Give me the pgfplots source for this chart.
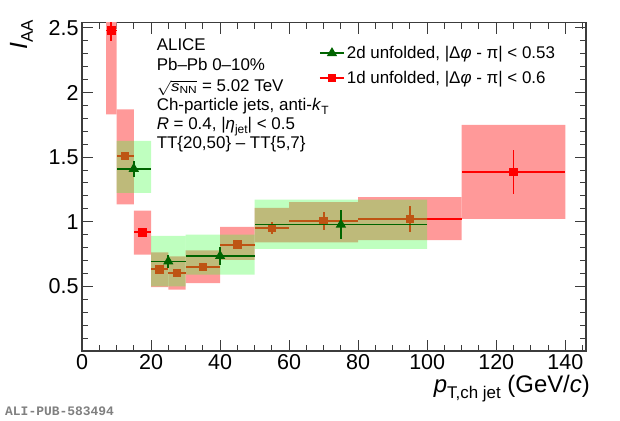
\documentclass[border=0pt]{standalone}
\usepackage{fontspec}
\setmainfont{Liberation Sans}
\setmonofont{Liberation Mono}
\usepackage{graphicx}
\usepackage{pgfplots}
\pgfplotsset{compat=1.18}
\definecolor{sysred}{RGB}{255,153,153}
\definecolor{sysgreen}{RGB}{60,255,60}
\definecolor{dgreen}{RGB}{0,100,0}
\definecolor{axgray}{RGB}{60,60,60}
\newcommand{\rbox}[4]{\addplot[draw=none,fill=sysred,forget plot] coordinates {(#1,#3) (#2,#3) (#2,#4) (#1,#4) (#1,#3)};}
\newcommand{\gbox}[4]{\addplot[draw=none,fill=sysgreen,fill opacity=0.33,forget plot] coordinates {(#1,#3) (#2,#3) (#2,#4) (#1,#4) (#1,#3)};}
\begin{document}
\begin{tikzpicture}
\path[use as bounding box] (0,0) rectangle (620bp,421bp);
\begin{axis}[
  at={(82bp,70bp)}, anchor=south west,
  scale only axis, width=504bp, height=328.3bp,
  xmin=0, xmax=146, ymin=0, ymax=2.54,
  xtick={0,20,...,140}, ytick={0.5,1,1.5,2,2.5},
  minor xtick={5,10,15,25,30,35,45,50,55,65,70,75,85,90,95,105,110,115,125,130,135,145},
  minor ytick={0.1,0.2,0.3,0.4,0.6,0.7,0.8,0.9,1.1,1.2,1.3,1.4,1.6,1.7,1.8,1.9,2.1,2.2,2.3,2.4},
  tick align=inside, major tick length=11bp, minor tick length=6bp,
  axis line style={line width=1.1bp, axgray},
  every tick/.style={axgray, line width=1bp},
  ticklabel style={font=\fontsize{21.6}{21.6}\selectfont},
  /pgf/number format/assume math mode=true,
  clip marker paths=true,
  legend style={at={(rel axis cs:0.47,0.935)}, anchor=north west, draw=none, fill=none,
     font=\fontsize{17}{17}\selectfont, row sep=7bp, inner sep=0pt},
  legend cell align=left,
  legend image code/.code={\draw[mark repeat=2,mark phase=2] plot coordinates {(0bp,0bp) (12bp,0bp) (24bp,0bp)};},
]
% red systematic boxes
\rbox{7}{10}{1.83}{3.13}
\rbox{10}{15}{1.134}{1.87}
\rbox{15}{20}{0.745}{1.087}
\rbox{20}{25}{0.495}{0.763}
\rbox{25}{30}{0.474}{0.732}
\rbox{30}{40}{0.525}{0.778}
\rbox{40}{50}{0.705}{0.96}
\rbox{50}{60}{0.84}{1.108}
\rbox{60}{80}{0.84}{1.151}
\rbox{80}{110}{0.857}{1.19}
\rbox{110}{140}{1.022}{1.75}
% red points
\addplot[red, line width=1.8bp, only marks, mark=square*, mark size=3.3bp, forget plot,
  error bars/.cd, x dir=both, x explicit, y dir=both, y explicit, error mark=none,
  error bar style={line width=1.8bp, red}]
  table[x=x, y=y, x error=ex, y error=ey] {
x y ex ey
8.5 2.48 1.5 0.085
12.5 1.51 2.5 0.03
17.5 0.918 2.5 0.02
22.5 0.632 2.5 0.02
27.5 0.603 2.5 0.02
35 0.65 5 0.02
45 0.823 5 0.03
55 0.952 5 0.045
70 1.004 10 0.07
95 1.022 15 0.1
125 1.387 15 0.17
};
% green systematic boxes
\gbox{10}{20}{1.224}{1.625}
\gbox{20}{30}{0.50}{0.89}
\gbox{30}{50}{0.59}{0.90}
\gbox{50}{100}{0.79}{1.172}
% green points
\addplot[dgreen, line width=1.8bp, only marks, mark=triangle*, mark size=4.2bp, forget plot,
  error bars/.cd, x dir=both, x explicit, y dir=both, y explicit, error mark=none,
  error bar style={line width=1.8bp, dgreen}]
  table[x=x, y=y, x error=ex, y error=ey] {
x y ex ey
15 1.41 5 0.06
25 0.693 5 0.05
40 0.735 10 0.07
75 0.978 25 0.115
};
\addlegendimage{dgreen, line width=1.8bp, mark=triangle*, mark size=4.2bp}
\addlegendentry{2d unfolded, |Δ\textit{φ} - π| < 0.53}
\addlegendimage{red, line width=1.8bp, mark=square*, mark size=3.3bp}
\addlegendentry{1d unfolded, |Δ\textit{φ} - π| < 0.6}
% annotation
\node[anchor=base west, inner sep=0, font=\fontsize{17}{17}\selectfont] at (rel axis cs:0.148,0.915) {ALICE};
\node[anchor=base west, inner sep=0, font=\fontsize{17}{17}\selectfont] at (rel axis cs:0.148,0.854) {Pb–Pb 0–10\%};
\node[anchor=base west, inner sep=0, font=\fontsize{17}{17}\selectfont] at (rel axis cs:0.148,0.791) {\scalebox{1}[0.86]{$\sqrt{\textit{s}_{\mbox{\fontsize{12}{12}\selectfont NN}}}$} = 5.02 TeV};
\node[anchor=base west, inner sep=0, font=\fontsize{17}{17}\selectfont] at (rel axis cs:0.148,0.734) {Ch-particle jets, anti-\textit{k}\raisebox{-0.45ex}{\fontsize{12}{12}\selectfont T}};
\node[anchor=base west, inner sep=0, font=\fontsize{17}{17}\selectfont] at (rel axis cs:0.148,0.676) {\textit{R} = 0.4, |\textit{η}\raisebox{-0.5ex}{\fontsize{12}{12}\selectfont jet}| < 0.5};
\node[anchor=base west, inner sep=0, font=\fontsize{17}{17}\selectfont] at (rel axis cs:0.148,0.617) {TT\{20,50\} – TT\{5,7\}};
\end{axis}
\node[anchor=base east, inner sep=0, font=\fontsize{24}{24}\selectfont] at (590bp,29bp)
  {\textit{p}\raisebox{-0.55ex}{\fontsize{17}{17}\selectfont T,ch jet} (GeV/\textit{c})};
\node[anchor=base east, rotate=90, inner sep=0, font=\fontsize{25}{25}\selectfont] at (27bp,401bp)
  {\textit{I}\raisebox{-0.45ex}{\fontsize{17}{17}\selectfont AA}};
\node[anchor=base west, inner sep=0, font=\fontsize{13}{13}\selectfont\ttfamily\bfseries, text=gray] at (5bp,6bp) {ALI-PUB-583494};
\end{tikzpicture}
\end{document}
